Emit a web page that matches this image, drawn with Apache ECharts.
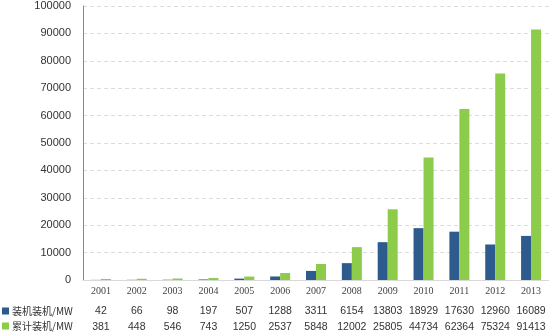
<!DOCTYPE html>
<html><head><meta charset="utf-8">
<script src="https://cdn.jsdelivr.net/npm/echarts@6/dist/echarts.min.js"></script>
<style>html,body{margin:0;padding:0;background:#fff;}#c{width:549px;height:335px;}</style>
</head><body><div id="c"></div>
<script>
const years = ['2001','2002','2003','2004','2005','2006','2007','2008','2009','2010','2011','2012','2013'];
const newInstall = [42,66,98,197,507,1288,3311,6154,13803,18929,17630,12960,16089];
const cumInstall = [381,448,546,743,1250,2537,5848,12002,25805,44734,62364,75324,91413];
const yTicks = [0,10000,20000,30000,40000,50000,60000,70000,80000,90000,100000];
const seriesNames = ['装机装机/MW','累计装机/MW'];
const colors = ['#2D5B8E','#8DCB4A'];

const chart = echarts.init(document.getElementById('c'));
const baseAxis = {
  type:'category', gridIndex:0, position:'bottom',
  axisLine:{show:false}, axisTick:{show:false}, splitLine:{show:false}
};
chart.setOption({
  animation:false,
  grid:{left:83, right:0, top:6, bottom:55},
  legend:{
    data:seriesNames, orient:'vertical', left:2, top:306, itemGap:5,
    itemWidth:7, itemHeight:7, icon:'rect', itemStyle:{borderWidth:0},
    textStyle:{fontSize:10, color:'#333', fontFamily:'Noto Sans CJK SC', padding:[0,0,0,-2]},
    padding:0, selectedMode:false
  },
  xAxis:[
    Object.assign({}, baseAxis, {data:years,
      axisLine:{show:true, lineStyle:{color:'#d9d9d9'}},
      axisLabel:{margin:6, fontSize:10, color:'#444', fontFamily:'Liberation Serif', interval:0}}),
    Object.assign({}, baseAxis, {data:newInstall.map(String), offset:26,
      axisLabel:{margin:0, fontSize:10.5, color:'#333', fontFamily:'Liberation Sans', interval:0}}),
    Object.assign({}, baseAxis, {data:cumInstall.map(String), offset:42,
      axisLabel:{margin:0, fontSize:10.5, color:'#333', fontFamily:'Liberation Sans', interval:0}})
  ],
  yAxis:{
    type:'value', min:yTicks[0], max:yTicks[yTicks.length-1], interval:10000,
    axisLine:{show:true, lineStyle:{color:'#888'}}, axisTick:{show:false},
    axisLabel:{margin:12, fontSize:11, color:'#333', fontFamily:'Liberation Sans', formatter:v=>String(v)},
    splitLine:{show:true, lineStyle:{color:'#dcdcdc', type:[4,3], width:1}}
  },
  series:[
    {name:seriesNames[0], type:'bar', data:newInstall, barWidth:10, barGap:'0%', itemStyle:{color:colors[0]}, xAxisIndex:0},
    {name:seriesNames[1], type:'bar', data:cumInstall, barWidth:10, barGap:'0%', itemStyle:{color:colors[1]}, xAxisIndex:0}
  ]
});
</script></body></html>
